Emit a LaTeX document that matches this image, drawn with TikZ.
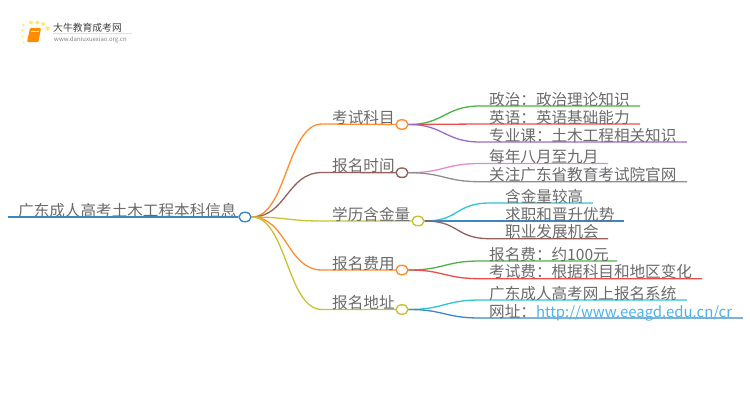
\documentclass[tikz,border=0pt]{standalone}
\usepackage{fontspec}
\setmainfont{Noto Sans CJK SC}
\usepackage[usenames, dvipsnames]{xcolor}
\usetikzlibrary{shapes.geometric}
\definecolor{txt}{HTML}{6A6A6A}
\definecolor{cblue}{HTML}{3A87C2}
\definecolor{corange}{HTML}{FF8C2E}
\definecolor{cbrown}{HTML}{96605A}
\definecolor{colive}{HTML}{C8C232}
\definecolor{cgreen}{HTML}{4CB445}
\definecolor{cred}{HTML}{EE4B4B}
\definecolor{cpurple}{HTML}{9A6CC8}
\definecolor{cpink}{HTML}{E68AC8}
\definecolor{cgray}{HTML}{8E8E8E}
\definecolor{ccyan}{HTML}{2FC3D6}
\definecolor{clink}{HTML}{4DB3E8}
\tikzset{
  label/.style={anchor=base west, inner sep=0pt, text=txt, font=\fontsize{15.6}{15.6}\selectfont},
  dot/.style={draw, ellipse, fill=white, line width=1.4pt, minimum width=12pt, minimum height=9.5pt, inner sep=0pt},
  branch/.style={line width=1.3pt},
  dotsun/.style={fill=Goldenrod!80, draw=none, opacity=0.8}
}
\begin{document}
\begin{tikzpicture}[x=1pt, y=-1pt]
      \useasboundingbox (0,0) rectangle (750,410);
      % logo
      \fill[dotsun] (23.5,25) circle[radius=1.5pt];
      \fill[dotsun] (31,22.5) circle[radius=2pt];
      \fill[dotsun] (37.5,22.5) circle[radius=2pt];
      \fill[dotsun] (43,24) circle[radius=2pt];
      \fill[dotsun] (47.5,28.5) circle[radius=2.2pt];
      \fill[dotsun] (22.5,30.5) circle[radius=1.3pt];
      \fill[dotsun] (22.5,36.5) circle[radius=1.2pt];
      \fill[dotsun] (23.5,42.5) circle[radius=1pt];
      \fill[orange!90!yellow, rounded corners=1pt] (30,28) -- (41,28) -- (38.5,42) -- (27,42) -- cycle;
      \draw[Goldenrod!40, line width=0.8pt] (31,31) -- (39,31);
      \node[label, font=\fontsize{9.8}{9.8}\selectfont, text=black!75] (logotitle) at (53,31) {大牛教育成考网};
      \node[label, font=\fontsize{6}{6}\selectfont, text=black!50] (logourl) at (54,41) {www.daniuxuexiao.org.cn};
      \draw[black!12, line width=0.5pt] (53,33.5) -- (132,33.5);
      % root
      \coordinate (rootstart) at (8,217);
      \node[dot, draw=cblue] (root) at (245,217) {};
      \node[label] (roottext) at (18,216) {广东成人高考土木工程本科信息};
      \draw[branch, cblue] (rootstart) -- (root);
      % first level
      \coordinate (kaoshiL) at (322,124);
      \coordinate (shijianL) at (322,172.5);
      \coordinate (xueliL) at (322,221);
      \coordinate (feiyongL) at (322,270);
      \coordinate (dizhiL) at (322,309.5);
      \node[dot, draw=corange] (kaoshi) at (402,124.5) {};
      \node[dot, draw=cbrown] (shijian) at (402,172.7) {};
      \node[dot, draw=colive] (xueli) at (418,221) {};
      \node[dot, draw=corange] (feiyong) at (402,270) {};
      \node[dot, draw=colive] (dizhi) at (402,309.5) {};
      \draw[branch, corange] (root.east) .. controls +(35,0) and +(-35,0) .. (kaoshiL) -- (kaoshi);
      \draw[branch, cbrown] (root.east) .. controls +(35,0) and +(-35,0) .. (shijianL) -- (shijian);
      \draw[branch, colive] (root.east) .. controls +(35,0) and +(-35,0) .. (xueliL) -- (xueli);
      \draw[branch, corange] (root.east) .. controls +(35,0) and +(-35,0) .. (feiyongL) -- (feiyong);
      \draw[branch, colive] (root.east) .. controls +(35,0) and +(-35,0) .. (dizhiL) -- (dizhi);
      \node[label] (kaoshitext) at (332,123) {考试科目};
      \node[label] (shijiantext) at (332,171.5) {报名时间};
      \node[label] (xuelitext) at (332,220) {学历含金量};
      \node[label] (feiyongtext) at (332,269) {报名费用};
      \node[label] (dizhitext) at (332,308.5) {报名地址};
      % second level, kaoshi
      \coordinate (zhengzhiL) at (480,106);  \coordinate (zhengzhiR) at (640,106);
      \coordinate (yingyuL) at (480,124);    \coordinate (yingyuR) at (640,124);
      \coordinate (zhuanyeL) at (480,142);   \coordinate (zhuanyeR) at (687,142);
      \draw[branch, cgreen] (kaoshi.east) .. controls +(35,0) and +(-35,0) .. (zhengzhiL) -- (zhengzhiR);
      \draw[branch, cred] (kaoshi.east) .. controls +(35,0) and +(-35,0) .. (yingyuL) -- (yingyuR);
      \draw[branch, cpurple] (kaoshi.east) .. controls +(35,0) and +(-35,0) .. (zhuanyeL) -- (zhuanyeR);
      \node[label] (zhengzhi) at (489,105) {政治：政治理论知识};
      \node[label] (yingyu) at (489,123) {英语：英语基础能力};
      \node[label] (zhuanye) at (489,141) {专业课：土木工程相关知识};
      % second level, shijian
      \coordinate (meinianL) at (480,163.5); \coordinate (meinianR) at (608,163.5);
      \coordinate (guanzhuL) at (480,181.7); \coordinate (guanzhuR) at (687,181.7);
      \draw[branch, cpink] (shijian.east) .. controls +(35,0) and +(-35,0) .. (meinianL) -- (meinianR);
      \draw[branch, cgray] (shijian.east) .. controls +(35,0) and +(-35,0) .. (guanzhuL) -- (guanzhuR);
      \node[label] (meinian) at (489,162.5) {每年八月至九月};
      \node[label] (guanzhu) at (489,180.7) {关注广东省教育考试院官网};
      % second level, xueli
      \coordinate (hanjinL) at (490,203);    \coordinate (hanjinR) at (593,203);
      \coordinate (qiuzhiL) at (490,221);    \coordinate (qiuzhiR) at (624,221);
      \coordinate (zhiyeL) at (490,238.7);   \coordinate (zhiyeR) at (608,238.7);
      \draw[branch, ccyan] (xueli.east) .. controls +(35,0) and +(-35,0) .. (hanjinL) -- (hanjinR);
      \draw[branch, cblue] (xueli.east) .. controls +(35,0) and +(-35,0) .. (qiuzhiL) -- (qiuzhiR);
      \draw[branch, cbrown] (xueli.east) .. controls +(35,0) and +(-35,0) .. (zhiyeL) -- (zhiyeR);
      \node[label] (hanjin) at (505,202) {含金量较高};
      \node[label] (qiuzhi) at (505,220) {求职和晋升优势};
      \node[label] (zhiye) at (505,237.7) {职业发展机会};
      % second level, feiyong
      \coordinate (baomingfeiL) at (480,261);  \coordinate (baomingfeiR) at (617,261);
      \coordinate (kaoshifeiL) at (480,278.7); \coordinate (kaoshifeiR) at (702,278.7);
      \draw[branch, cgreen] (feiyong.east) .. controls +(35,0) and +(-35,0) .. (baomingfeiL) -- (baomingfeiR);
      \draw[branch, cred] (feiyong.east) .. controls +(35,0) and +(-35,0) .. (kaoshifeiL) -- (kaoshifeiR);
      \node[label] (baomingfei) at (489,260) {报名费：约100元};
      \node[label] (kaoshifei) at (489,277.7) {考试费：根据科目和地区变化};
      % second level, dizhi
      \coordinate (xitongL) at (480,300);    \coordinate (xitongR) at (687,300);
      \coordinate (wangzhiL) at (480,318);   \coordinate (wangzhiR) at (743,318);
      \draw[branch, ccyan] (dizhi.east) .. controls +(35,0) and +(-35,0) .. (xitongL) -- (xitongR);
      \draw[branch, cblue] (dizhi.east) .. controls +(35,0) and +(-35,0) .. (wangzhiL) -- (wangzhiR);
      \node[label] (xitong) at (489,299) {广东成人高考网上报名系统};
      \node[label] (wangzhi) at (489,317) {网址：\textcolor{clink}{\fontsize{14.9}{14.9}\selectfont http://www.eeagd.edu.cn/cr}};
    \end{tikzpicture}
\end{document}
